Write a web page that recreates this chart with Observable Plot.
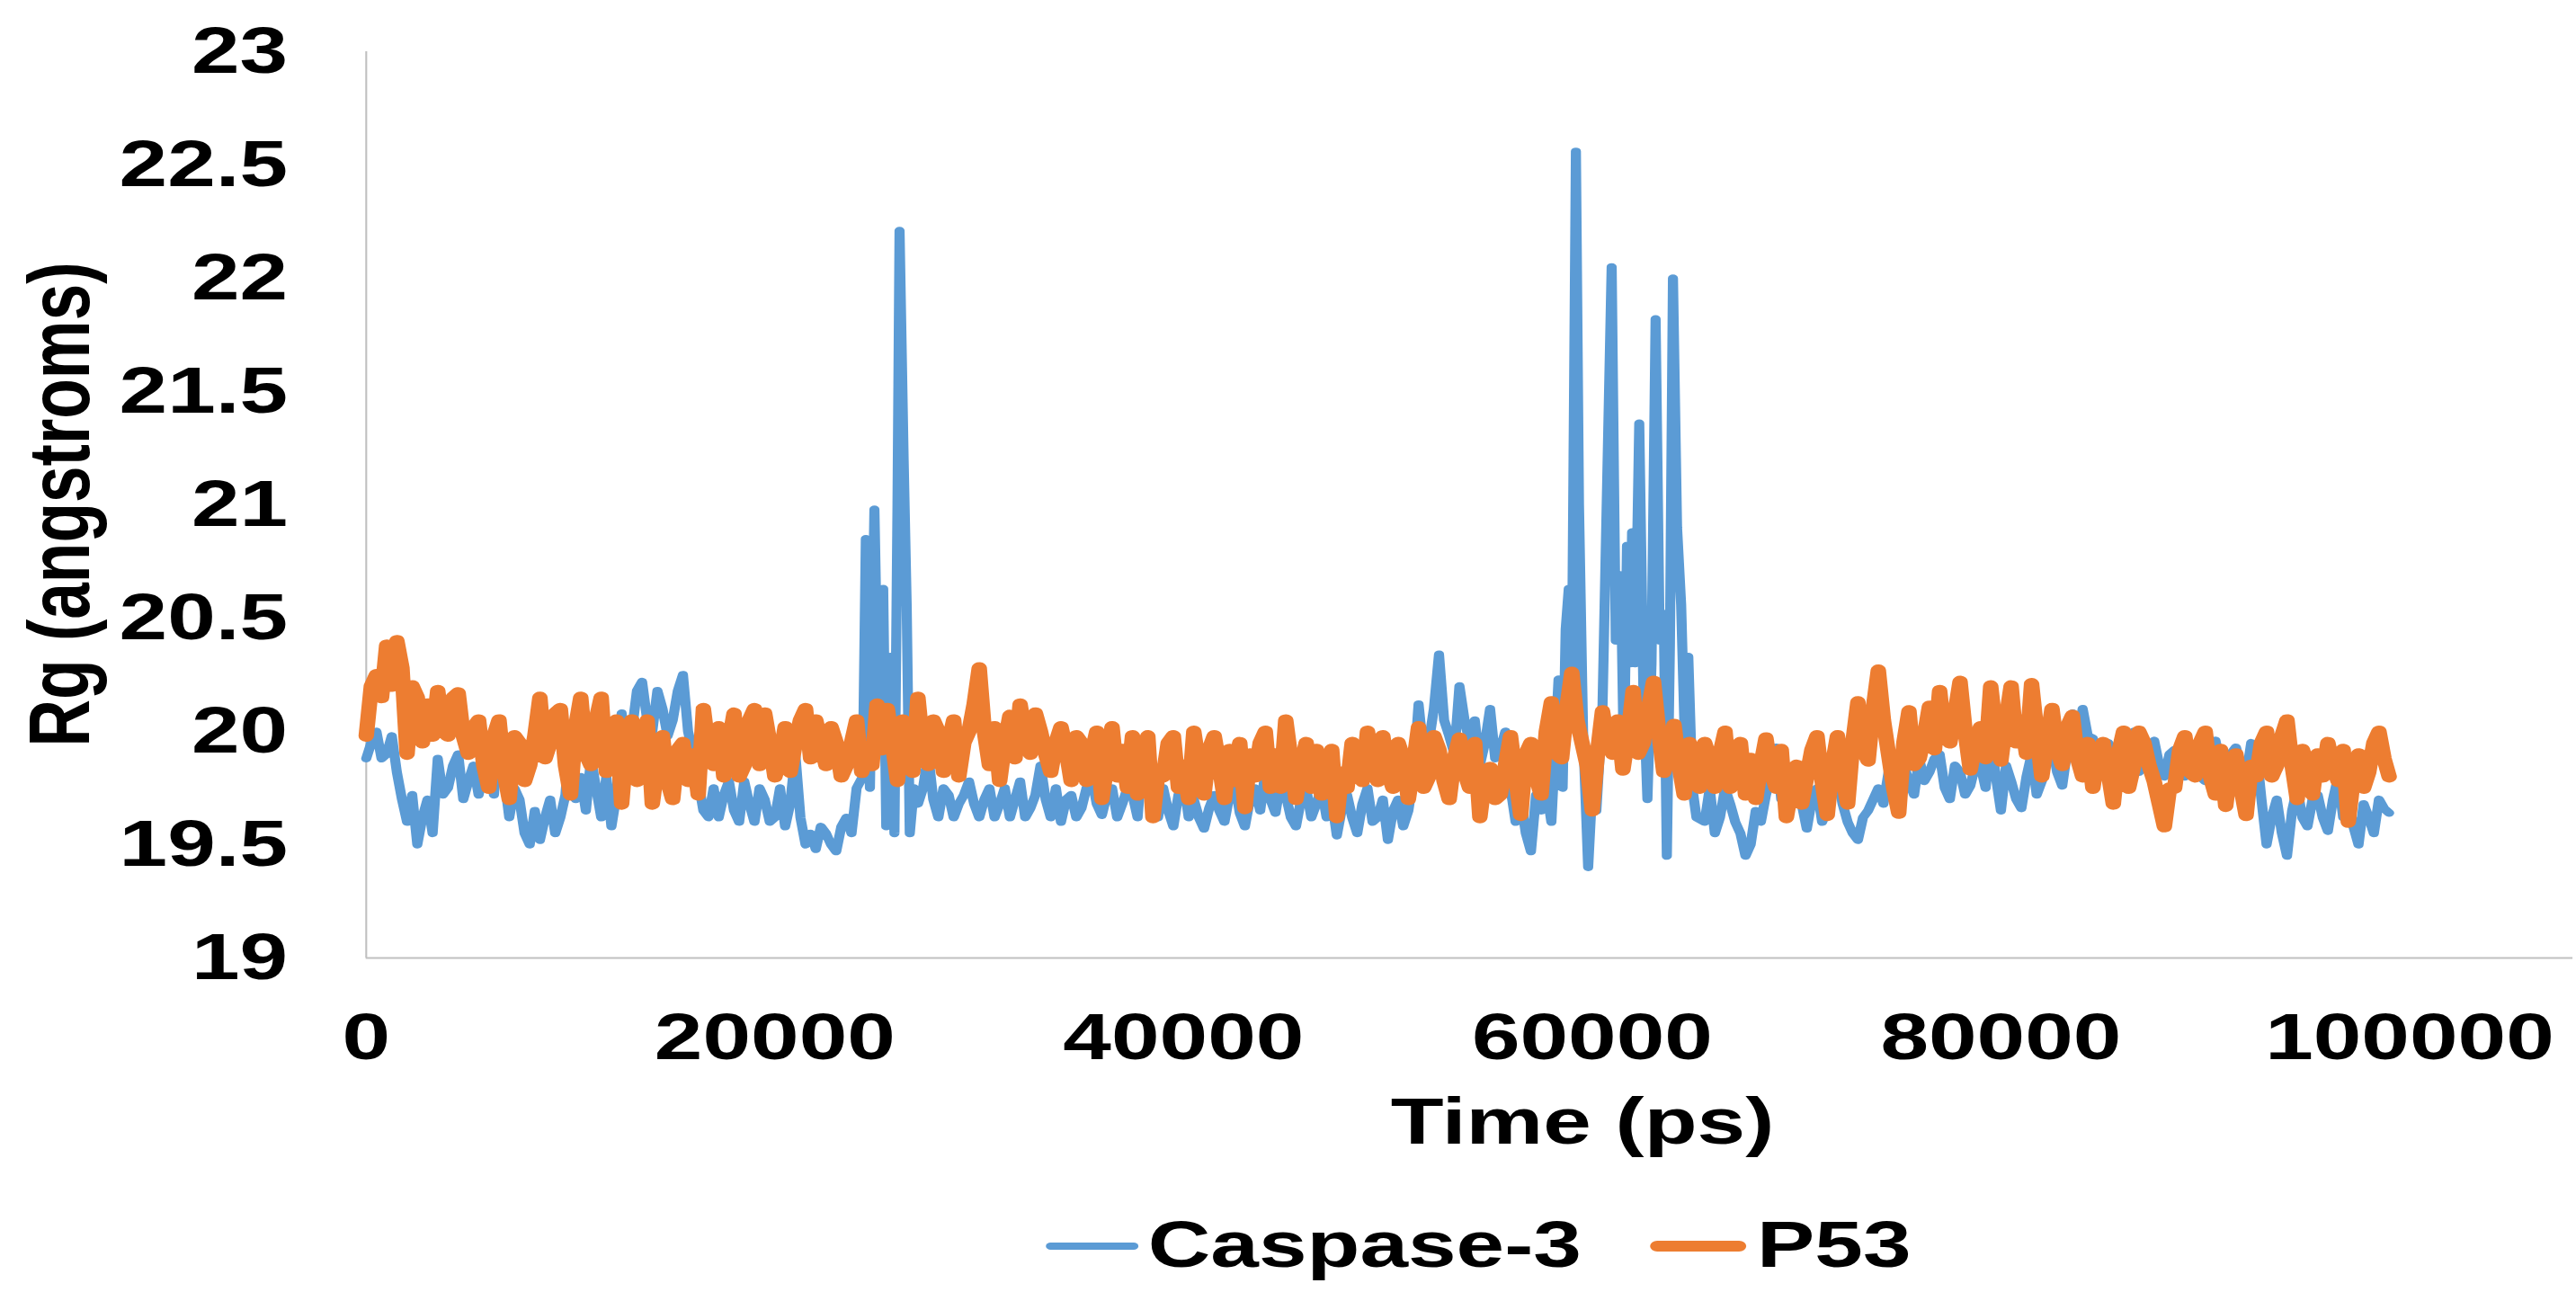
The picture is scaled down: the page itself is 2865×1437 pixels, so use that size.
<!DOCTYPE html>
<html>
<head>
<meta charset="utf-8">
<script src="https://cdn.jsdelivr.net/npm/d3@7"></script>
<script src="https://cdn.jsdelivr.net/npm/@observablehq/plot@0.6"></script>
<style>
html, body { margin: 0; padding: 0; background: #fff; overflow: hidden; }
#wrap { width: 2865px; height: 1437px; position: relative; overflow: hidden; background: #fff; }
#chart { position: absolute; left: 0; top: 0; width: 2170px; height: 1437px; transform-origin: 0 0; transform: scaleX(1.3203); }
</style>
</head>
<body>
<div id="wrap"><div id="chart"></div></div>
<script>
// ---------- data ----------
const seriesNames = ["Caspase-3", "P53"];
const seriesColors = ["#5B9BD5", "#ED7D31"];
const xTicks = [0, 20000, 40000, 60000, 80000, 100000];
const yTicks = [19, 19.5, 20, 20.5, 21, 21.5, 22, 22.5, 23];

// sampling grids of the time axis (ps)
const timePs = d3.range(0, 99001, 500);      // 0, 500, ... 99000
const timeMidPs = d3.range(250, 99000, 500); // 250, 750, ... 98750

// P53 radius of gyration (angstroms) at 0, 500, 1000 ... ps
const p53Rg = [
  19.98, 20.25, 20.38, 20.40, 19.90, 20.15, 20.12, 20.18, 19.98, 20.17,
  19.90, 20.05, 19.75, 20.05, 19.70, 19.95, 19.85, 20.15, 19.95, 20.10,
  19.72, 20.15, 19.85, 20.15, 19.90, 19.68, 20.05, 19.90, 19.68, 19.98,
  19.70, 19.95, 19.90, 20.10, 19.85,
  19.80, 20.08, 19.85, 20.10, 20.08, 19.80, 20.02, 19.95, 20.10, 20.05,
  19.85, 19.95, 19.85, 20.05, 19.90, 20.12, 20.10, 19.78, 19.95, 20.15,
  19.85, 20.00, 19.95, 19.80, 20.00, 20.28, 19.85, 19.78, 20.07, 20.12,
  19.90, 20.00, 19.82,
  20.02, 19.78, 19.95, 19.90, 19.70, 20.02, 19.92, 19.98, 19.85, 19.62,
  19.80, 19.98, 19.85, 20.00, 19.72, 19.98, 19.70, 19.78, 19.66, 19.80,
  20.00, 19.90, 20.05, 19.70, 19.95, 19.92, 19.80, 19.62, 19.75, 19.90,
  20.00, 19.78, 19.82, 19.95,
  19.70, 20.02, 19.80, 19.92, 19.70, 19.97, 19.75, 19.62, 19.84, 19.72,
  19.98, 19.63, 19.95, 19.72, 20.13, 19.88, 20.26, 19.95, 19.65, 20.09,
  19.90, 19.83, 20.18, 19.95, 20.22, 19.82, 20.03, 19.72, 19.90, 19.95,
  19.75, 20.00, 19.85, 19.72,
  19.70, 19.97, 19.75, 19.62, 19.85, 19.80, 19.98, 19.63, 19.98, 19.68,
  20.13, 19.87, 20.27, 19.90, 19.64, 20.09, 19.88, 20.11, 20.18, 19.95,
  20.22, 19.83, 20.02, 20.20, 19.87, 20.20, 20.05, 20.21, 19.80, 20.10,
  19.85, 20.07, 19.80,
  19.75, 19.95, 19.68, 20.00, 19.85, 19.95, 19.78, 19.58, 19.75, 19.98,
  19.80, 20.00, 19.72, 19.67, 19.90, 19.63, 19.80, 20.00, 19.85, 20.05,
  19.70, 19.85, 19.90, 19.95, 19.78, 19.60, 19.90, 19.82, 20.00, 19.80
];
// P53 at 250, 750, 1250 ... ps
const p53RgMid = [
  20.20, 20.15, 20.20, 20.28, 20.20, 19.95, 19.98, 20.00, 20.15, 19.98,
  20.02, 19.85, 19.98, 19.82, 19.98, 19.78, 19.98, 19.88, 20.08, 19.85,
  20.02, 19.90, 20.05, 19.82, 20.05, 19.95, 19.78, 20.05, 19.85, 19.78,
  19.92, 19.78, 19.72, 19.92, 20.02, 19.95, 19.80, 20.05, 19.85, 19.95,
  19.88, 19.82, 20.05, 19.88, 19.95, 20.02, 19.80, 19.95, 19.82, 19.85,
  19.92, 19.95, 20.05, 19.82, 19.92, 20.05, 19.82, 20.05, 19.95, 20.12,
  20.00, 20.02, 19.95, 19.88, 19.98, 20.08, 19.90, 19.95, 19.92, 19.98,
  19.78, 20.00, 19.85, 19.80, 19.75, 19.72, 19.98, 19.82, 19.95, 19.75,
  19.70, 19.85, 19.92, 19.85, 19.92, 19.95, 19.90, 19.95, 19.75, 19.75,
  19.88, 19.85, 19.75, 19.72, 19.92, 19.82, 19.95, 19.78, 19.85, 19.98,
  19.75, 19.88, 19.85, 19.75, 19.98, 19.78, 19.88, 19.82, 19.95, 19.80,
  19.70, 19.85, 19.80, 19.90, 19.80, 20.00, 19.90, 20.10, 20.05, 19.85,
  19.90, 19.95, 20.05, 19.98, 19.90, 20.10, 20.00, 19.90, 19.85, 19.95,
  19.75, 19.88, 19.90, 19.75, 19.95, 19.88, 19.85, 19.82, 19.92, 19.75,
  19.68, 19.92, 19.78, 19.85, 19.80, 19.95, 19.92, 20.10, 20.05, 19.75,
  19.95, 19.85, 19.98, 19.92, 19.98, 20.08, 20.00, 19.95, 19.88, 20.00,
  20.05, 19.95, 19.90, 20.00, 19.95, 19.92, 20.02, 19.88, 19.95, 19.90,
  19.82, 19.90, 19.75, 20.00, 19.85, 19.68, 19.75, 19.92, 19.82, 19.95,
  19.80, 19.92, 19.85, 19.75, 19.85, 19.95, 19.80, 19.98, 19.85, 19.92,
  19.72, 19.80, 19.85, 19.92, 19.80, 19.75, 19.95, 19.88
];

// Caspase-3 radius of gyration at 0, 500 ... ps (null inside the spike windows)
const caspaseRg = [
  19.88, 20.00, 19.90, 19.82, 19.60, 19.50, 19.70, 19.88, 19.75, 19.90,
  19.78, 19.72, 19.88, 20.02, 19.62, 19.70, 19.50, 19.52, 19.70, 19.62,
  20.02, 19.80, 19.88, 19.62, 19.58, 20.08, 20.00, 20.22, 20.00, 20.10,
  20.05, 20.25, 19.90, 19.65, 19.75,
  19.72, 19.65, 19.78, 19.60, 19.70, 19.62, 19.58, 19.90, 19.50, 19.48,
  19.55, 19.47, 19.62, 19.75, null, null, null, null, null, 19.68,
  19.90, 19.62, 19.72, 19.68, 19.78, 19.62, 19.75, 19.68, 19.62, 19.78,
  19.66, 19.85, 19.62,
  19.60, 19.72, 19.66, 19.80, 19.63, 19.75, 19.68, 19.72, 19.90, 19.70,
  19.75, 19.58, 19.78, 19.70, 19.57, 19.72, 19.60, 19.78, 19.58, 19.75,
  19.82, 19.64, 19.72, 19.58, 19.75, 19.68, 19.62, 19.54, 19.72, 19.55,
  19.75, 19.62, 19.52, 19.70,
  19.65, 20.12, 19.95, 20.34, 19.98, 20.20, 19.95, 19.85, 20.10, 19.92,
  19.75, 19.70, 19.47, 19.65, 19.60, null, null, null, null, null,
  null, null, null, null, null, null, null, null, null, 19.60,
  19.55, 19.75, 19.60, 19.45,
  19.65, 19.72, 19.93, 19.68, 19.85, 19.57, 19.75, 19.66, 19.80, 19.60,
  19.52, 19.65, 19.75, 19.82, 19.70, 19.78, 19.88, 19.82, 19.90, 19.70,
  19.82, 19.76, 19.85, 19.97, 19.65, 19.78, 19.66, 19.90, 19.78, 19.95,
  19.76, 20.08, 20.10,
  19.97, 19.88, 19.90, 19.82, 20.00, 19.85, 19.96, 19.80, 19.92, 19.80,
  19.88, 19.78, 19.96, 19.82, 19.93, 19.80, 19.92, 19.50, 19.70, 19.45,
  19.75, 19.58, 19.72, 19.56, 19.80, 19.70, 19.50, 19.62, 19.70, 19.64
];
// Caspase-3 at 250, 750 ... ps (null inside the spike windows)
const caspaseRgMid = [
  19.95, 19.88, 19.98, 19.70, 19.72, 19.62, 19.55, 19.72, 19.85, 19.70,
  19.85, 19.82, 19.72, 19.80, 19.75, 19.55, 19.65, 19.62, 19.55, 19.72,
  19.70, 19.65, 19.75, 19.80, 19.72, 19.85, 20.18, 20.05, 20.18, 19.98,
  20.18, 20.00, 19.78, 19.62, 19.62, 19.78, 19.60, 19.68, 19.75, 19.60,
  19.75, 19.68, 19.62, 19.55, 19.58, 19.50, 19.58, 19.55, null, null,
  null, null, null, null, 19.75, 19.70, 19.75, 19.62, 19.72, 19.68,
  19.70, 19.62, 19.75, 19.70, 19.62, 19.72, 19.70, 19.75, 19.70, 19.62,
  19.75, 19.68, 19.72, 19.62, 19.75, 19.62, 19.72, 19.62, 19.65, 19.72,
  19.62, 19.62, 19.66, 19.65, 19.72, 19.64, 19.70, 19.65, 19.70, 19.78,
  19.62, 19.70, 19.62, 19.75, 19.70, 19.66, 19.62, 19.68, 19.60, 19.70,
  19.65, 19.58, 19.80, 19.90, 20.10, 20.05, 19.90, 20.05, 20.05, 19.95,
  19.88, 20.00, 19.60, 19.55, 19.72, 19.75, null, null, null, null,
  null, null, null, null, null, null, null, null, null, null,
  null, 19.75, 19.62, 19.68, 19.55, 19.50, 19.60, 19.80, 19.70, 19.78,
  19.68, 19.70, 19.60, 19.75, 19.68, 19.55, 19.62, 19.70, 19.68, 19.75,
  19.85, 19.72, 19.78, 19.88, 19.75, 19.85, 19.72, 19.85, 19.75, 19.80,
  19.85, 19.70, 19.80, 19.72, 19.88, 19.82, 19.92, 19.95, 19.98, 19.85,
  19.95, 19.80, 19.92, 19.82, 19.92, 19.85, 19.90, 19.82, 19.92, 19.80,
  19.90, 19.85, 19.90, 19.85, 19.95, 19.70, 19.62, 19.55, 19.65, 19.62,
  19.70, 19.62, 19.70, 19.62, 19.58, 19.68, 19.55, 19.66
];

// Caspase-3 detail inside the two spike windows
const caspaseSpikeTime = [
  24300, 24450, 24650, 24870, 25050, 25300, 25450, 25650, 25850, 26000,
  26100, 26300, 26450, 26600, 26800,
  58350, 58550, 58700, 58850, 59000, 59200, 59350, 59550, 59800, 60000,
  60200, 60500, 60950, 61150, 61400, 61550, 61700, 61850, 61950, 62100,
  62300, 62500, 62700, 62900, 63100, 63300, 63500, 63650, 63800, 63950,
  64150, 64350, 64550, 64700, 64900, 65100
];
const caspaseSpikeRg = [
  19.80, 20.85, 19.75, 20.98, 20.10, 20.63, 19.58, 20.33, 19.55, 21.00,
  22.21, 21.20, 20.55, 19.55, 19.75,
  20.23, 19.75, 20.45, 20.63, 20.20, 22.56, 21.00, 20.00, 19.40, 19.75,
  19.65, 20.10, 22.05, 20.40, 20.69, 19.85, 20.82, 20.30, 20.88, 20.30,
  21.36, 20.20, 19.70, 20.30, 21.82, 20.40, 20.52, 19.45, 20.38, 22.00,
  20.90, 20.56, 19.90, 20.33, 19.75, 19.62
];

// ---------- build tables ----------
const pairs = (ts, vs) => ts.map((t, i) => ({ t, v: vs[i] })).filter(d => d.v != null);
const p53Data = pairs(timePs, p53Rg)
  .concat(pairs(timeMidPs, p53RgMid))
  .sort((a, b) => a.t - b.t);
const caspaseData = pairs(timePs, caspaseRg)
  .concat(pairs(timeMidPs, caspaseRgMid))
  .concat(pairs(caspaseSpikeTime, caspaseSpikeRg))
  .sort((a, b) => a.t - b.t);

// ---------- chart ----------
const FONT = "'Liberation Sans', Arial, Helvetica, sans-serif";
const FS = 73;
const fmt = d => String(d);

const plot = Plot.plot({
  width: 2170,
  height: 1437,
  marginLeft: 308,
  marginRight: 3,
  marginTop: 57,
  marginBottom: 372,
  style: { fontFamily: FONT, fontSize: FS + "px", fontWeight: "bold", color: "#000", background: "transparent", overflow: "visible" },
  x: { domain: [0, 108000] },
  y: { domain: [19, 23] },
  marks: [
    Plot.ruleX([0], { stroke: "#c0c0c0", strokeWidth: 1.6 }),
    Plot.ruleY([19], { stroke: "#c0c0c0", strokeWidth: 2.2 }),
    Plot.axisX({ ticks: xTicks, tickFormat: fmt, tickSize: 0, tickPadding: 61, label: null, fontSize: FS, fontWeight: "bold", fill: "#000" }),
    Plot.axisY({ ticks: yTicks, tickFormat: fmt, tickSize: 0, tickPadding: 66, label: null, fontSize: FS, fontWeight: "bold", fill: "#000" }),
    Plot.line(caspaseData, { x: "t", y: "v", stroke: seriesColors[0], strokeWidth: 8.5, strokeLinejoin: "round", strokeLinecap: "round" }),
    Plot.line(p53Data, { x: "t", y: "v", stroke: seriesColors[1], strokeWidth: 13, strokeLinejoin: "round", strokeLinecap: "round" })
  ]
});

document.getElementById("chart").appendChild(plot);

const svg = d3.select(plot);
// axis titles
svg.append("text")
  .attr("x", 1333).attr("y", 1272)
  .attr("text-anchor", "middle")
  .attr("font-family", FONT).attr("font-size", FS).attr("font-weight", "bold").attr("fill", "#000")
  .text("Time (ps)");
svg.append("text")
  .attr("transform", "translate(75,561) rotate(-90)")
  .attr("text-anchor", "middle")
  .attr("font-family", FONT).attr("font-size", FS).attr("font-weight", "bold").attr("fill", "#000")
  .text("Rg (angstroms)");

// legend
const legendItems = [
  { name: seriesNames[0], color: seriesColors[0], w: 8, x1: 885, x2: 955, tx: 967 },
  { name: seriesNames[1], color: seriesColors[1], w: 12, x1: 1396, x2: 1465, tx: 1480 }
];
const lg = svg.append("g");
legendItems.forEach(it => {
  lg.append("line")
    .attr("x1", it.x1).attr("x2", it.x2).attr("y1", 1386).attr("y2", 1386)
    .attr("stroke", it.color).attr("stroke-width", it.w).attr("stroke-linecap", "round");
  lg.append("text")
    .attr("x", it.tx).attr("y", 1409)
    .attr("text-anchor", "start")
    .attr("font-family", FONT).attr("font-size", FS).attr("font-weight", "bold").attr("fill", "#000")
    .text(it.name);
});
</script>
</body>
</html>
